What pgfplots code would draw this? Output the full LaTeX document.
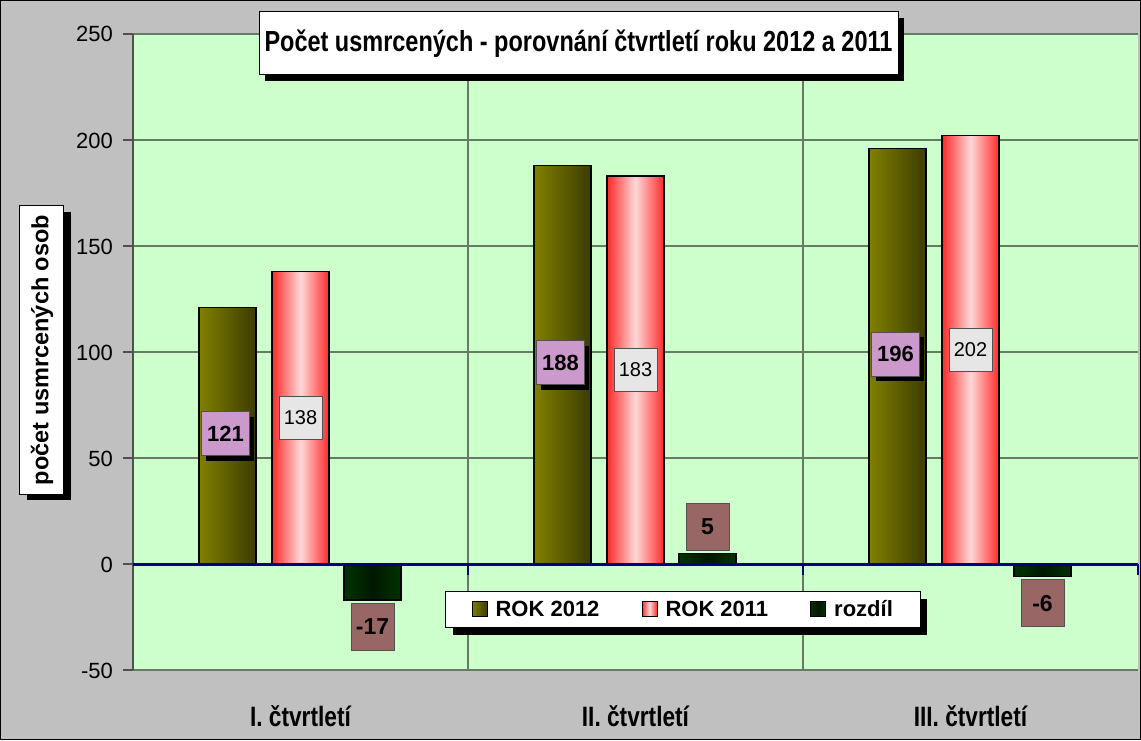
\documentclass[border=0pt]{standalone}
\usepackage{pgfplots}
\pgfplotsset{compat=1.18}
\usepackage{fontspec}
\setmainfont{Liberation Sans}
\newfontfamily\narrowfont[FakeStretch=0.81]{Liberation Sans}
\usetikzlibrary{shadows}
\definecolor{chartgray}{HTML}{C0C0C0}
\definecolor{plotgreen}{HTML}{CCFFCC}
\definecolor{gridc}{HTML}{667A66}
\definecolor{oliveL}{HTML}{808000}
\definecolor{oliveR}{HTML}{3C3C00}
\definecolor{pinkE}{HTML}{FF2A2A}
\definecolor{pinkM}{HTML}{FFD8D8}
\definecolor{dgE}{HTML}{003300}
\definecolor{dgM}{HTML}{001800}
\definecolor{labA}{HTML}{CC99CC}
\definecolor{labB}{HTML}{E6E6E6}
\definecolor{labD}{HTML}{996666}
\definecolor{navyc}{HTML}{000080}
\definecolor{axisc}{HTML}{505050}
\pgfplotsset{
  ybar legend/.style={},
  s12/.style={ybar, bar width=0.17, bar shift=-0.218, draw=black, line width=1.2pt,
    left color=oliveL, right color=oliveR,
    legend image code/.code={\draw[black, line width=1pt, left color=oliveL, right color=oliveR] (0pt,-7.5pt) rectangle (15pt,7.5pt);},
    nodes near coords={},
    visualization depends on={rawy \as \rawy},
    nodes near coords style={anchor=center, xshift=-70pt, yshift={-1.06pt*\rawy-3pt}, fill=black, draw=none,
      minimum width=48pt, minimum height=44pt, inner sep=0pt}},
  s12lab/.style={ybar, bar width=0.17, bar shift=-0.218, draw=none, fill=none,
    nodes near coords,
    visualization depends on={rawy \as \rawy},
    nodes near coords style={anchor=center, xshift=-75pt, yshift={-1.06pt*\rawy+2pt}, fill=labA, draw=axisc, line width=0.8pt,
      font=\fontsize{22}{24}\selectfont\bfseries, text=black, minimum width=48pt, minimum height=44pt, inner sep=0pt}},
  s11/.style={ybar, bar width=0.17, bar shift=0, draw=black, line width=1.2pt,
    left color=pinkE, right color=pinkE, middle color=pinkM,
    legend image code/.code={\draw[black, line width=1pt, left color=pinkE, right color=pinkE, middle color=pinkM] (0pt,-7.5pt) rectangle (15pt,7.5pt);},
    nodes near coords,
    visualization depends on={rawy \as \rawy},
    nodes near coords style={anchor=center, yshift={-1.06pt*\rawy}, fill=labB, draw=axisc, line width=0.8pt,
      font=\fontsize{20}{22}\selectfont, text=black, minimum width=43pt, minimum height=43pt, inner sep=0pt}},
  sd/.style={ybar, bar width=0.17, bar shift=0.215, draw=black, line width=1.2pt,
    left color=dgE, right color=dgE, middle color=dgM,
    legend image code/.code={\draw[black, line width=1pt, left color=dgE, right color=dgE, middle color=dgM] (0pt,-7.5pt) rectangle (15pt,7.5pt);},
    nodes near coords,
    nodes near coords style={xshift=72pt, fill=labD, draw=axisc, line width=0.8pt,
      font=\fontsize{23}{25}\selectfont\bfseries, text=black, minimum width=43pt, minimum height=47pt, inner sep=0pt, outer sep=3pt}},
}
\begin{document}
\begin{tikzpicture}
\fill[chartgray] (-133pt,-70pt) rectangle (1008pt,670pt);
\begin{axis}[name=ax, at={(0,0)}, anchor=south west, scale only axis,
  width=1005pt, height=636pt,
  xmin=-0.5, xmax=2.5, ymin=-50, ymax=250,
  axis background/.style={fill=plotgreen},
  axis line style={draw=none},
  /pgf/number format/assume math mode=true,
  ytick={-50,0,50,100,150,200,250}, ytick pos=left,
  tick align=outside, major tick length=10pt,
  ytick style={draw=axisc, line width=1.2pt},
  yticklabel style={font=\fontsize{22}{24}\selectfont, anchor=east, inner sep=0pt, xshift=-10pt, text height=16pt, text depth=0pt},
  ymajorgrids, major grid style={gridc, line width=1.5pt},
  xtick={0,1,2},
  xticklabels={I. čtvrtletí, II. čtvrtletí, III. čtvrtletí},
  xtick style={draw=none},
  xticklabel style={font=\narrowfont\fontsize{28}{30}\selectfont\bfseries, anchor=center, inner sep=0pt, yshift=-36pt, text height=20pt, text depth=0pt},
  legend columns=3,
  legend style={at={(0.5475,0.0955)}, anchor=center, draw=black, line width=1pt, fill=white,
    font=\fontsize{22}{24}\selectfont\bfseries, inner xsep=26pt, inner ysep=7pt,
    /tikz/every odd column/.append style={column sep=6pt},
    /tikz/every even column/.append style={column sep=40pt}},
  clip=false,
]
\draw[gridc, line width=1.5pt] (axis cs:0.5,-50) -- (axis cs:0.5,250);
\draw[gridc, line width=1.5pt] (axis cs:1.5,-50) -- (axis cs:1.5,250);
% first quarter (legend entries)
\addplot[s12] coordinates {(0,121)};
\addlegendentry{ROK 2012}
\addplot[s11] coordinates {(0,138)};
\addlegendentry{ROK 2011}
\addplot[sd] coordinates {(0,-17)};
\addlegendentry{rozdíl}
\addplot[s12lab, forget plot] coordinates {(0,121)};
% second quarter
\addplot[s12, forget plot] coordinates {(1,188)};
\addplot[s12lab, forget plot] coordinates {(1,188)};
\addplot[s11, forget plot] coordinates {(1,183)};
\addplot[sd, forget plot] coordinates {(1,5)};
% third quarter
\addplot[s12, forget plot] coordinates {(2,196)};
\addplot[s12lab, forget plot] coordinates {(2,196)};
\addplot[s11, forget plot] coordinates {(2,202)};
\addplot[sd, forget plot] coordinates {(2,-6)};
% axes
\draw[axisc, line width=1.5pt] (rel axis cs:0,0) -- (rel axis cs:0,1);
\draw[navyc, line width=3pt] (axis cs:-0.5,0) -- (axis cs:2.5,0);
\draw[navyc, line width=2pt] (axis cs:0.5,0) -- ([yshift=-11pt]axis cs:0.5,0);
\draw[navyc, line width=2pt] (axis cs:1.5,0) -- ([yshift=-11pt]axis cs:1.5,0);
\draw[navyc, line width=2pt] (axis cs:2.5,0) -- ([yshift=-11pt]axis cs:2.5,0);
% legend shadow
\fill[black] (rel axis cs:0.3184,0.0550) rectangle (rel axis cs:0.7900,0.1116);
\end{axis}
% y label
\node[fill=black, minimum width=288pt, minimum height=44pt, rotate=90] at (-84pt,314pt) {};
\node[fill=white, draw=black, line width=1pt, minimum width=288pt, minimum height=44pt, rotate=90,
  font=\fontsize{23.5}{25}\selectfont\bfseries] at (-91pt,320pt) {počet usmrcených osob};
% title
\node[fill=white, draw=black, line width=1pt, minimum width=639pt, minimum height=63pt,
  drop shadow={shadow xshift=6pt, shadow yshift=-6pt, fill=black, opacity=1},
  font=\narrowfont\fontsize{29}{31}\selectfont\bfseries] at (445.5pt,626.5pt) {Počet usmrcených - porovnání čtvrtletí roku 2012 a 2011};
\draw[black, line width=1.5pt] (-132.25pt,-69.25pt) rectangle (1007.25pt,669.25pt);
\pgfresetboundingbox
\path (-133pt,-70pt) rectangle (1008pt,670pt);
\end{tikzpicture}
\end{document}
